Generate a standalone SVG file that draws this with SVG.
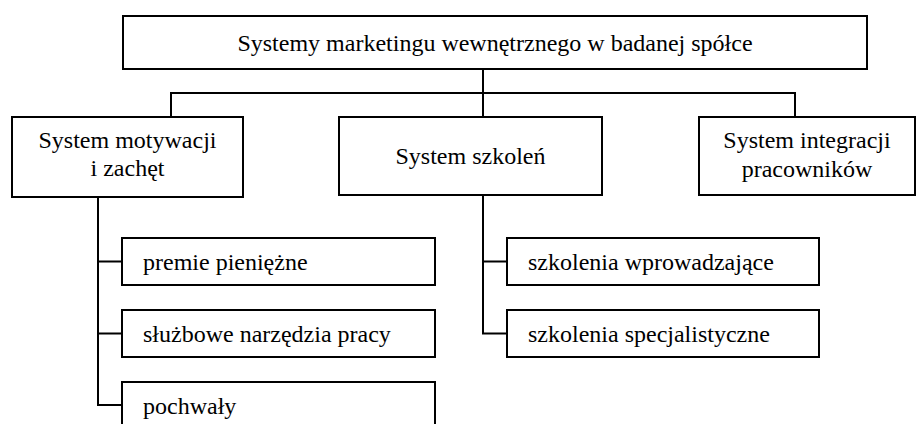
<svg xmlns="http://www.w3.org/2000/svg" width="917" height="424" viewBox="0 0 917 424">
<style>
.box{fill:#fff;stroke:#000;stroke-width:2}
.ln{fill:none;stroke:#000;stroke-width:2}
.c{text-anchor:middle}
</style>
<rect width="917" height="424" fill="#fff"/>
<g id="connectors">
<path class="ln" d="M483 69V116"/>
<path class="ln" d="M171 117V93H795V117"/>
<path class="ln" d="M98 197V405H122M98 261.5H122M98 333.5H122"/>
<path class="ln" d="M483 195V333.5H507M483 261.5H507"/>
</g>
<g font-family="Liberation Serif, Tinos, Times New Roman, DejaVu Serif, serif" font-size="24" fill="#000">
<g id="root"><rect class="box" x="123" y="16" width="744" height="53"/><text class="c" x="495" y="50.5">Systemy marketingu wewnętrznego w badanej spółce</text></g>
<g id="motywacja"><rect class="box" x="12" y="117" width="231" height="80"/><text class="c" x="127.5" y="148">System motywacji</text><text class="c" x="127.5" y="176">i zachęt</text></g>
<g id="szkolenia"><rect class="box" x="339" y="117" width="263" height="78"/><text class="c" x="470.5" y="164">System szkoleń</text></g>
<g id="integracja"><rect class="box" x="699" y="117" width="216" height="78"/><text class="c" x="807" y="148">System integracji</text><text class="c" x="807" y="177">pracowników</text></g>
<g id="premie"><rect class="box" x="122" y="238" width="313" height="47"/><text x="143" y="269.5">premie pieniężne</text></g>
<g id="narzedzia"><rect class="box" x="122" y="310" width="313" height="47"/><text x="143" y="341.5">służbowe narzędzia pracy</text></g>
<g id="pochwaly"><rect class="box" x="122" y="382" width="313" height="47"/><text x="143" y="413.5">pochwały</text></g>
<g id="wprowadzajace"><rect class="box" x="507" y="238" width="312" height="47"/><text x="528" y="269.5">szkolenia wprowadzające</text></g>
<g id="specjalistyczne"><rect class="box" x="507" y="310" width="312" height="47"/><text x="528" y="341.5">szkolenia specjalistyczne</text></g>
</g>
</svg>
